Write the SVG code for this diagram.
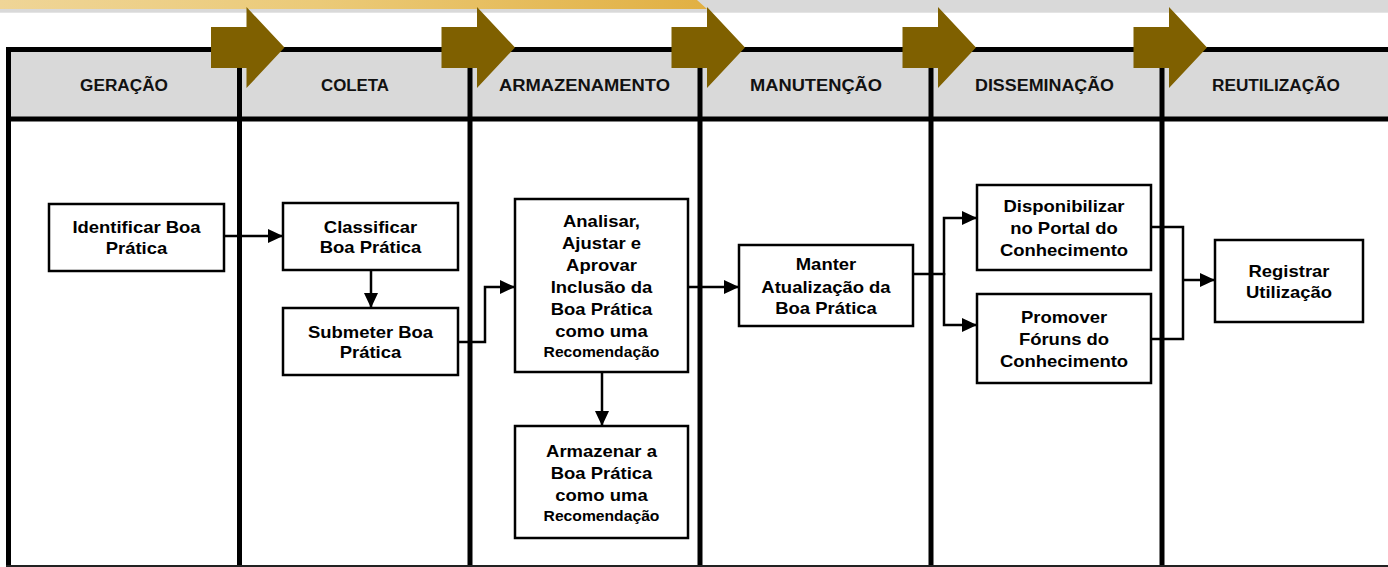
<svg xmlns="http://www.w3.org/2000/svg" width="1388" height="567" viewBox="0 0 1388 567">
<defs>
<linearGradient id="gold" x1="0" y1="0" x2="1" y2="0">
<stop offset="0" stop-color="#efd597"/>
<stop offset="0.45" stop-color="#ebca78"/>
<stop offset="1" stop-color="#e1b043"/>
</linearGradient>
<marker id="ah" markerUnits="userSpaceOnUse" markerWidth="16" markerHeight="14" refX="15" refY="7" orient="auto">
<path d="M0,0 L15,7 L0,14 Z" fill="#000"/>
</marker>
<style>
.frame{stroke:#000;stroke-width:5;fill:none}
.hdr{font-family:"Liberation Sans",Arial,sans-serif;font-weight:bold;font-size:16px;fill:#111;text-anchor:middle}
.box{fill:#fff;stroke:#000;stroke-width:2.5}
.t{font-family:"Liberation Sans",Arial,sans-serif;font-weight:bold;font-size:16.5px;fill:#000;text-anchor:middle}
.s{font-size:14px}
.chev{fill:#7f6000}
.con{fill:none;stroke:#000;stroke-width:2.5}
</style>
</defs>
<rect width="1388" height="567" fill="#fff"/>
<g id="banner">
<rect x="0" y="0" width="1388" height="12.7" fill="#d9d9d9"/>
<path d="M0,0 H697 L707,9 H0 Z" fill="url(#gold)"/>
</g>
<g id="frame">
<rect x="8.5" y="52" width="1380" height="65" fill="#d9d9d9"/>
<line class="frame" x1="6" y1="49.5" x2="1388" y2="49.5"/>
<line class="frame" x1="6" y1="119" x2="1388" y2="119"/>
<line class="frame" x1="8.5" y1="47" x2="8.5" y2="567"/>
<line class="frame" x1="239.5" y1="47" x2="239.5" y2="567"/>
<line class="frame" x1="470" y1="47" x2="470" y2="567"/>
<line class="frame" x1="700" y1="47" x2="700" y2="567"/>
<line class="frame" x1="931" y1="47" x2="931" y2="567"/>
<line class="frame" x1="1162" y1="47" x2="1162" y2="567"/>
<line x1="6" y1="566" x2="1388" y2="566" stroke="#222" stroke-width="2"/>
</g>
<g id="headers">
<text class="hdr" x="124" y="91" textLength="88" lengthAdjust="spacingAndGlyphs">GERAÇÃO</text>
<text class="hdr" x="355" y="91" textLength="68" lengthAdjust="spacingAndGlyphs">COLETA</text>
<text class="hdr" x="584.5" y="91" textLength="171" lengthAdjust="spacingAndGlyphs">ARMAZENAMENTO</text>
<text class="hdr" x="816" y="91" textLength="132" lengthAdjust="spacingAndGlyphs">MANUTENÇÃO</text>
<text class="hdr" x="1044.5" y="91" textLength="139" lengthAdjust="spacingAndGlyphs">DISSEMINAÇÃO</text>
<text class="hdr" x="1276" y="91" textLength="128" lengthAdjust="spacingAndGlyphs">REUTILIZAÇÃO</text>
</g>
<g id="chevrons">
<polygon class="chev" points="211,27 246.5,27 246.5,7 284.5,47.5 246.5,88 246.5,68 211,68"/>
<polygon class="chev" points="441.5,27 477,27 477,7 515,47.5 477,88 477,68 441.5,68"/>
<polygon class="chev" points="671.5,27 707,27 707,7 745,47.5 707,88 707,68 671.5,68"/>
<polygon class="chev" points="902.5,27 938,27 938,7 976,47.5 938,88 938,68 902.5,68"/>
<polygon class="chev" points="1133.5,27 1169,27 1169,7 1207,47.5 1169,88 1169,68 1133.5,68"/>
</g>
<g id="n-identificar">
<rect class="box" x="49" y="204" width="175" height="67"/>
<text class="t" transform="translate(136.5 0) scale(1.12 1)"><tspan x="0" y="233">Identificar Boa</tspan><tspan x="0" y="254">Prática</tspan></text>
</g>
<g id="n-classificar">
<rect class="box" x="283" y="203" width="175" height="67"/>
<text class="t" transform="translate(370.5 0) scale(1.12 1)"><tspan x="0" y="233">Classificar</tspan><tspan x="0" y="253">Boa Prática</tspan></text>
</g>
<g id="n-submeter">
<rect class="box" x="283" y="308" width="175" height="67"/>
<text class="t" transform="translate(370.5 0) scale(1.12 1)"><tspan x="0" y="338">Submeter Boa</tspan><tspan x="0" y="358">Prática</tspan></text>
</g>
<g id="n-analisar">
<rect class="box" x="515" y="199" width="173" height="173"/>
<text class="t" transform="translate(601.5 0) scale(1.12 1)"><tspan x="0" y="227">Analisar,</tspan><tspan x="0" y="249">Ajustar e</tspan><tspan x="0" y="271">Aprovar</tspan><tspan x="0" y="293">Inclusão da</tspan><tspan x="0" y="315">Boa Prática</tspan><tspan x="0" y="337">como uma</tspan><tspan x="0" y="357" class="s">Recomendação</tspan></text>
</g>
<g id="n-armazenar">
<rect class="box" x="515" y="426" width="173" height="112"/>
<text class="t" transform="translate(601.5 0) scale(1.12 1)"><tspan x="0" y="457">Armazenar a</tspan><tspan x="0" y="479">Boa Prática</tspan><tspan x="0" y="501">como uma</tspan><tspan x="0" y="521" class="s">Recomendação</tspan></text>
</g>
<g id="n-manter">
<rect class="box" x="739" y="245" width="174" height="81"/>
<text class="t" transform="translate(826 0) scale(1.12 1)"><tspan x="0" y="270">Manter</tspan><tspan x="0" y="293">Atualização da</tspan><tspan x="0" y="314">Boa Prática</tspan></text>
</g>
<g id="n-disponibilizar">
<rect class="box" x="977" y="185" width="174" height="85"/>
<text class="t" transform="translate(1064 0) scale(1.12 1)"><tspan x="0" y="212">Disponibilizar</tspan><tspan x="0" y="234">no Portal do</tspan><tspan x="0" y="256">Conhecimento</tspan></text>
</g>
<g id="n-promover">
<rect class="box" x="977" y="294" width="174" height="89"/>
<text class="t" transform="translate(1064 0) scale(1.12 1)"><tspan x="0" y="323">Promover</tspan><tspan x="0" y="345">Fóruns do</tspan><tspan x="0" y="367">Conhecimento</tspan></text>
</g>
<g id="n-registrar">
<rect class="box" x="1215" y="240" width="148" height="82"/>
<text class="t" transform="translate(1289 0) scale(1.12 1)"><tspan x="0" y="277">Registrar</tspan><tspan x="0" y="298">Utilização</tspan></text>
</g>
<g id="connectors">
<path class="con" d="M224,236 H283" marker-end="url(#ah)"/>
<path class="con" d="M371,270 V308" marker-end="url(#ah)"/>
<path class="con" d="M458,342 H485 V287 H515" marker-end="url(#ah)"/>
<path class="con" d="M602,372 V426" marker-end="url(#ah)"/>
<path class="con" d="M688,287 H739" marker-end="url(#ah)"/>
<path class="con" d="M913,274 H944 V218 H977" marker-end="url(#ah)"/>
<path class="con" d="M944,273 V325 H977" marker-end="url(#ah)"/>
<path class="con" d="M1151,227 H1183 V339 H1151"/>
<path class="con" d="M1183,280 H1215" marker-end="url(#ah)"/>
</g>
</svg>
